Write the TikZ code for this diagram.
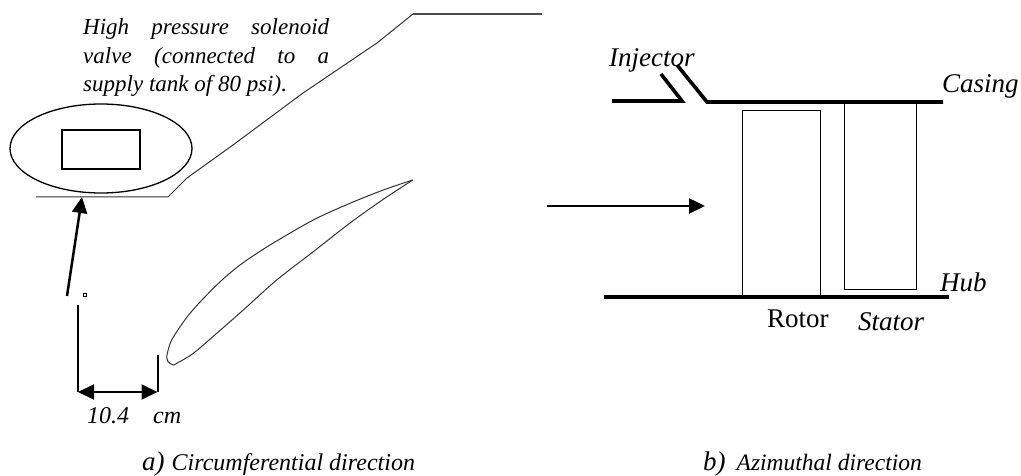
\documentclass[tikz,border=0pt]{standalone}
\usepackage{fontspec}
\setmainfont{Liberation Serif}
\usetikzlibrary{arrows.meta}
\tikzset{
  wall/.style={line width=3.6pt},
  thin line/.style={line width=1pt},
  contour/.style={line width=1pt, black!80},
  dim line/.style={line width=2pt},
  big arrow/.style={line width=2.5pt, -{Triangle[length=16pt,width=15pt]}},
  both arrow/.style={line width=2pt, {Triangle[length=16pt,width=15pt]}-{Triangle[length=16pt,width=15pt]}},
  label/.style={anchor=base west, inner sep=0pt, font=\fontsize{24}{29}\selectfont\itshape},
  biglabel/.style={label, font=\fontsize{27}{29}\selectfont\itshape},
  valvelabel/.style={label, font=\fontsize{23}{29}\selectfont\itshape}
}
\newcommand{\bigmark}[1]{{\fontsize{27}{29}\selectfont #1}}
\begin{document}
\begin{tikzpicture}[x=1pt, y=-1pt]
\useasboundingbox (0,0) rectangle (1021,476);
\node [valvelabel] (valvea) at (83,35) {\makebox[246pt][s]{High pressure solenoid}};
\node [valvelabel] (valveb) at (83,64) {\makebox[246pt][s]{valve (connected to a}};
\node [valvelabel] (valvec) at (83,92) {supply tank of 80 psi).};
\draw [line width=1.3pt] (101,148.5) ellipse (91 and 44.5);
\draw [line width=1.3pt] (62,130) rectangle (140,169);
\draw [contour] (36,197) -- (168,197) -- (187,178) -- (233,145) -- (303,93) -- (377,43) -- (413,14);
\draw [line width=2pt, black!70] (413,14) -- (541.5,14);
\coordinate (arrowstart) at (67,296);
\coordinate (arrowend) at (82,197);
\draw [big arrow] (arrowstart) -- (arrowend);
\draw [line width=0.8pt] (83.5,293.8) rectangle (86.5,296.8);
\draw [dim line] (78,305) -- (78,392);
\draw [dim line] (157.5,355) -- (157.5,392);
\coordinate (dimleft) at (78,392);
\coordinate (dimright) at (157.5,392);
\draw [both arrow] (dimleft) -- (dimright);
\node [label] (dimvalue) at (87,423) {10.4};
\node [label] (dimunit) at (153,423) {cm};
\draw [contour] plot [smooth, tension=0.5] coordinates {(166.7,356.7) (171.7,340) (190,313.3) (216.7,285) (240,265) (270,245) (313.3,220) (350,203.3) (383.3,190) (412.7,180)};
\draw [contour] plot [smooth, tension=0.5] coordinates {(412.7,180) (383,199.5) (350,223) (313.3,251.7) (276.7,280) (243.3,310) (216.7,333.3) (193.3,353.3) (176.7,363.3) (173.3,365) (168,361.7) (166.7,356.7)};
\node [label] (captiona) at (142,470) {\bigmark{a)}\hspace{7pt}Circumferential direction};
% right side
\draw [wall] (612,101) -- (682,101) -- (661,74);
\draw [wall] (677,65) -- (707,102) -- (943,102);
\draw [wall] (604,297) -- (949,297);
\draw [thin line] (742,297) -- (742,111) -- (820.5,111) -- (820.5,297);
\draw [thin line] (844,102) -- (844,289.5) -- (916,289.5) -- (916,102);
\coordinate (flowstart) at (547,206);
\coordinate (flowend) at (705,206);
\draw [big arrow] (flowstart) -- (flowend);
\node [biglabel] (injector) at (609,66.7) {Injector};
\node [biglabel] (casing) at (942,92.7) {Casing};
\node [biglabel] (hub) at (940,291.7) {Hub};
\node [biglabel, font=\fontsize{27}{29}\selectfont] (rotor) at (767,327.7) {Rotor};
\node [biglabel] (stator) at (858,330) {Stator};
\node [label, font=\fontsize{23.5}{29}\selectfont\itshape] (captionb) at (703,470) {\bigmark{b)}\hspace{11pt}Azimuthal direction};
\end{tikzpicture}
\end{document}
